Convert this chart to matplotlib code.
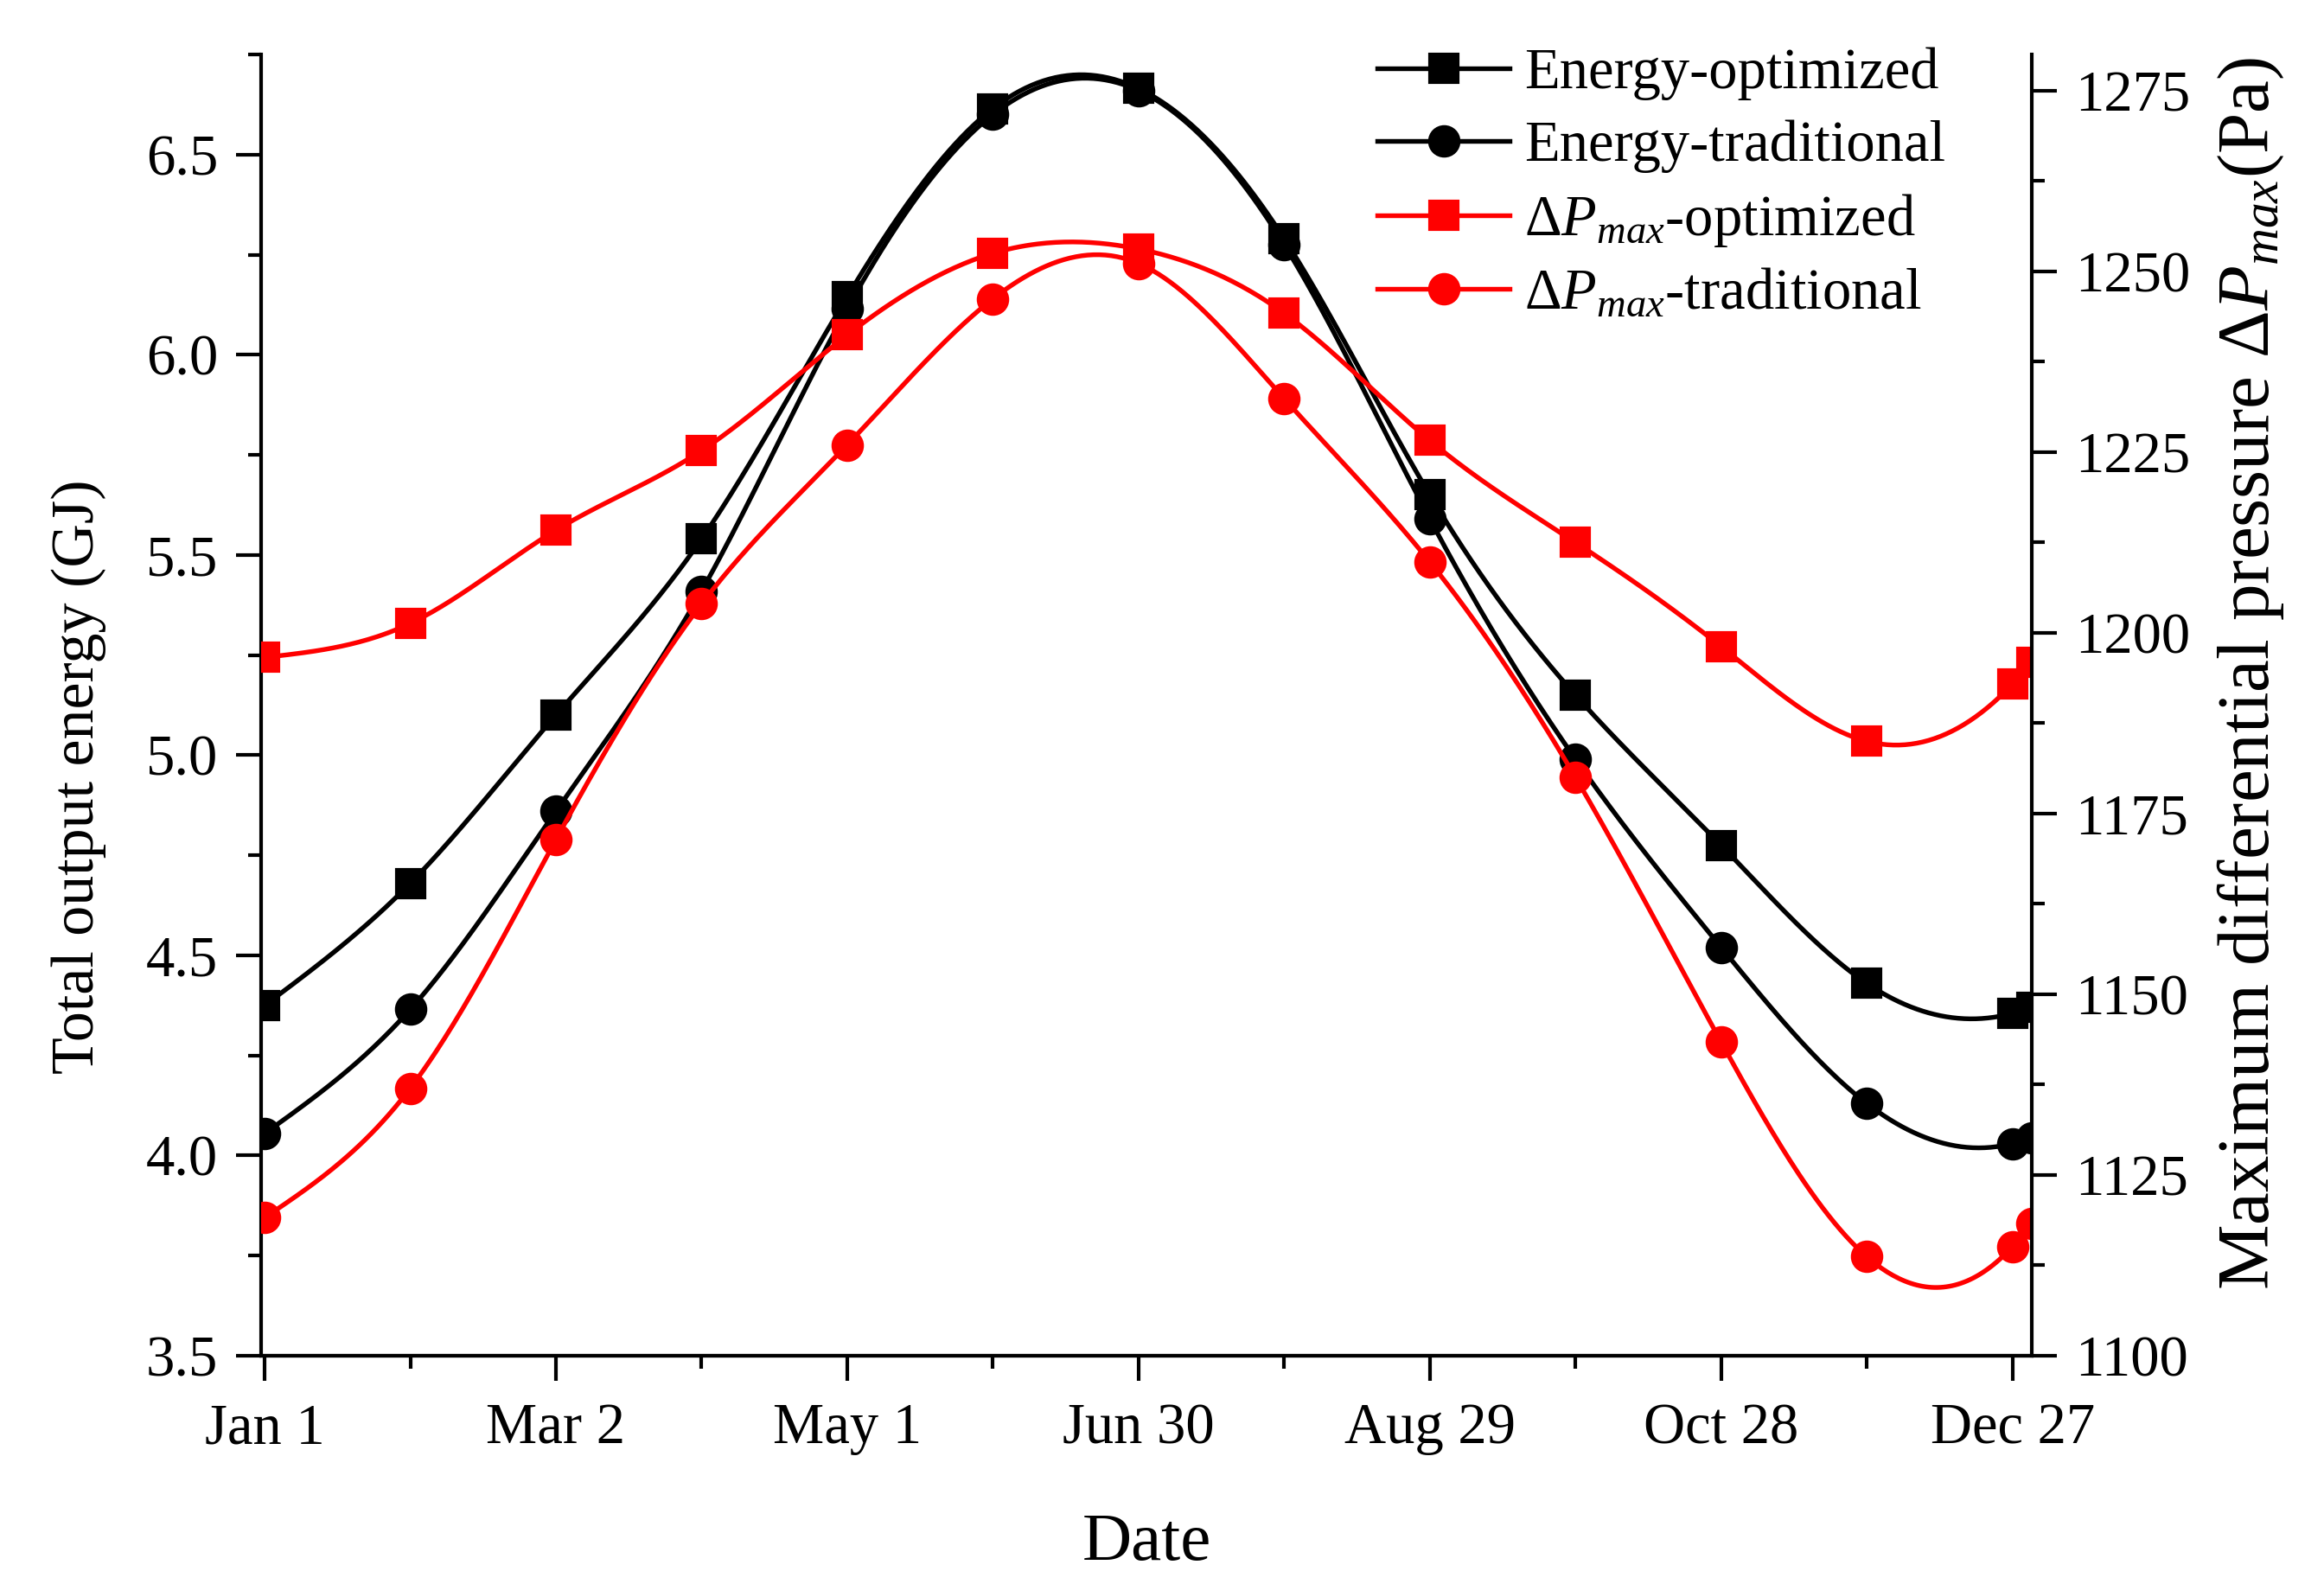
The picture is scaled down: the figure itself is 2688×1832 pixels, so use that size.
import numpy as np
import matplotlib
matplotlib.use('Agg')
import matplotlib.pyplot as plt
from matplotlib.ticker import MultipleLocator

# Day of year (Jan 1 = 0) for each sample
days = [0, 30, 60, 90, 120, 150, 180, 210, 240, 270, 300, 330, 360, 364]

# Total output energy (GJ)
energy_opt = [4.375, 4.68, 5.10, 5.54, 6.145, 6.615, 6.665, 6.29, 5.65, 5.15, 4.775, 4.43, 4.355, 4.37]
energy_trad = [4.055, 4.365, 4.86, 5.41, 6.115, 6.60, 6.66, 6.275, 5.59, 4.99, 4.52, 4.13, 4.03, 4.045]

# Maximum differential pressure (Pa)
dp_opt = [1196.6, 1201.3, 1214.2, 1225.2, 1241.2, 1252.5, 1253.1, 1244.2, 1226.6, 1212.5, 1198.1, 1185.0, 1192.9, 1195.9]
dp_trad = [1119.1, 1137.0, 1171.4, 1204.0, 1226.0, 1246.2, 1251.1, 1232.4, 1209.8, 1180.0, 1143.4, 1113.7, 1115.1, 1118.3]

tick_days = [0, 60, 120, 180, 240, 300, 360]
tick_labels = ['Jan 1', 'Mar 2', 'May 1', 'Jun 30', 'Aug 29', 'Oct 28', 'Dec 27']


def spline(x, y, n=600):
    # natural cubic spline through the points, used only to draw a smooth connecting line
    x = np.asarray(x, float)
    y = np.asarray(y, float)
    k = len(x)
    h = np.diff(x)
    A = np.zeros((k, k))
    b = np.zeros(k)
    A[0, 0] = A[-1, -1] = 1.0
    for i in range(1, k - 1):
        A[i, i - 1] = h[i - 1]
        A[i, i] = 2 * (h[i - 1] + h[i])
        A[i, i + 1] = h[i]
        b[i] = 6 * ((y[i + 1] - y[i]) / h[i] - (y[i] - y[i - 1]) / h[i - 1])
    M = np.linalg.solve(A, b)
    xs = np.linspace(x[0], x[-1], n)
    idx = np.clip(np.searchsorted(x, xs) - 1, 0, k - 2)
    x0, x1 = x[idx], x[idx + 1]
    hh = x1 - x0
    t0, t1 = x1 - xs, xs - x0
    ys = (M[idx] * t0 ** 3 + M[idx + 1] * t1 ** 3) / (6 * hh) \
        + (y[idx] / hh - M[idx] * hh / 6) * t0 \
        + (y[idx + 1] / hh - M[idx + 1] * hh / 6) * t1
    return xs, ys


plt.rcParams['font.family'] = ['Liberation Serif', 'DejaVu Serif']
plt.rcParams['mathtext.fontset'] = 'custom'
plt.rcParams['mathtext.rm'] = 'Liberation Serif'
plt.rcParams['mathtext.it'] = 'Liberation Serif:italic'
plt.rcParams['axes.linewidth'] = 1.0

fig = plt.figure(figsize=(8.96, 6.1067), dpi=300)
ax = fig.add_axes([0.1124, 0.1441, 0.8743 - 0.1124, 0.9656 - 0.1441])
ax2 = ax.twinx()

lw = 1.3
handles = []
for vals, mk, ms, lab in [(energy_opt, 's', 7.5, 'Energy-optimized'),
                          (energy_trad, 'o', 8, 'Energy-traditional')]:
    xs, ys = spline(days, vals)
    ax.plot(xs, ys, color='black', lw=lw)
    ax.plot(days, vals, linestyle='none', marker=mk, ms=ms, color='black')
    h, = ax.plot([], [], color='black', lw=lw, marker=mk, ms=ms, label=lab)
    handles.append(h)

for vals, mk, ms, lab in [(dp_opt, 's', 7.5, r'$\Delta\mathit{P}_{\mathit{max}}$-optimized'),
                          (dp_trad, 'o', 8, r'$\Delta\mathit{P}_{\mathit{max}}$-traditional')]:
    xs, ys = spline(days, vals)
    ax2.plot(xs, ys, color='red', lw=lw)
    ax2.plot(days, vals, linestyle='none', marker=mk, ms=ms, color='red')
    h, = ax2.plot([], [], color='red', lw=lw, marker=mk, ms=ms, label=lab)
    handles.append(h)

ax.set_xlim(-0.7, 364)
ax.set_ylim(3.5, 6.75)
ax2.set_ylim(1100, 1280)

ax.set_xticks(tick_days)
ax.set_xticklabels(tick_labels)
ax.xaxis.set_minor_locator(MultipleLocator(30))
ax.yaxis.set_major_locator(MultipleLocator(0.5))
ax.yaxis.set_minor_locator(MultipleLocator(0.25))
ax2.yaxis.set_major_locator(MultipleLocator(25))
ax2.yaxis.set_minor_locator(MultipleLocator(12.5))

for a in (ax, ax2):
    a.spines['top'].set_visible(False)
    a.tick_params(which='major', direction='out', length=7, width=1.0, labelsize=16, pad=5)
    a.tick_params(which='minor', direction='out', length=3.5, width=1.0)
ax.spines['right'].set_visible(False)
ax2.spines['left'].set_visible(False)
ax.tick_params(axis='x', pad=6)

ax.set_xlabel('Date', fontsize=19, labelpad=16)
ax.set_ylabel('Total output energy (GJ)', fontsize=16.8, labelpad=11)
ax.yaxis.label.set_y(0.445)
ax2.set_ylabel(r'Maximum differential pressure $\Delta\mathit{P}_{\mathit{max}}$(Pa)', fontsize=20.4, labelpad=7)
ax2.yaxis.label.set_y(0.524)

fig.legend(handles=handles, loc='upper left', bbox_to_anchor=(0.5926, 0.970),
           frameon=False, fontsize=16, handlelength=2.3, handletextpad=0.25,
           borderpad=0, borderaxespad=0, labelspacing=0.33)

fig.savefig('out.png', dpi=300)
